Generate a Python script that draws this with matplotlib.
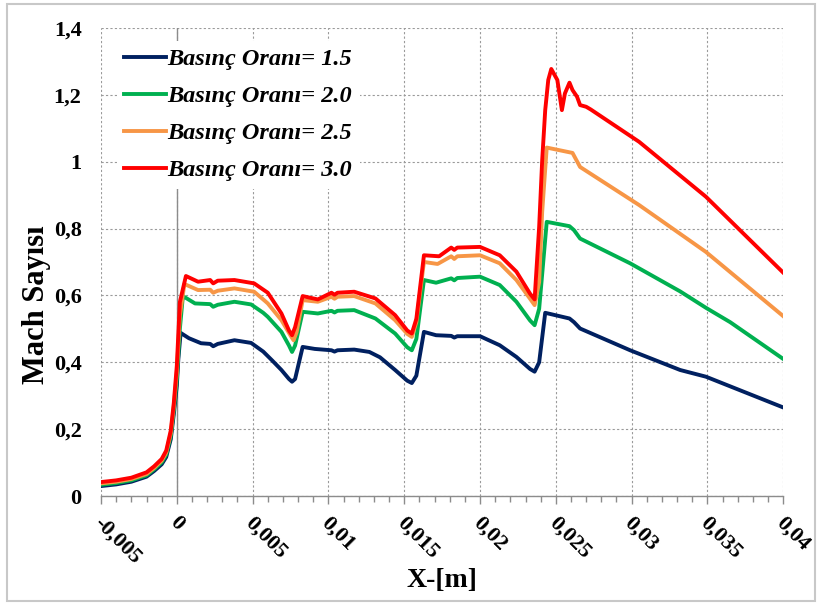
import numpy as np
import matplotlib.pyplot as plt
from matplotlib.ticker import FuncFormatter, MultipleLocator
from matplotlib.patches import Rectangle
from matplotlib.transforms import ScaledTranslation

plt.rcParams['font.family'] = ['Liberation Serif', 'DejaVu Serif']
plt.rcParams['font.weight'] = 'bold'

# Basinc orani = 1.5
x_15 = [-0.005, -0.004, -0.003, -0.002, -0.0015, -0.001, -0.0007, -0.0004, -0.0002, 0.0, 0.0001, 0.00025,
        0.0008, 0.0016, 0.0022, 0.0024, 0.0027, 0.0038, 0.0049, 0.0057, 0.0063, 0.0069, 0.0074, 0.0076, 0.0078,
        0.0083, 0.0091, 0.0102, 0.0104, 0.0106, 0.0117, 0.0127, 0.0134, 0.0144, 0.0152, 0.0155, 0.0158, 0.0163,
        0.0171, 0.0181, 0.0183, 0.0185, 0.02, 0.0213, 0.0224, 0.0233, 0.0236, 0.0239, 0.0243, 0.0259, 0.0262,
        0.0266, 0.0299, 0.0332, 0.0349, 0.04]
m_15 = [0.030, 0.035, 0.043, 0.058, 0.075, 0.095, 0.117, 0.170, 0.245, 0.330, 0.410, 0.488,
        0.472, 0.457, 0.455, 0.448, 0.455, 0.466, 0.458, 0.432, 0.405, 0.377, 0.350, 0.342, 0.350,
        0.446, 0.440, 0.436, 0.432, 0.436, 0.438, 0.431, 0.415, 0.377, 0.345, 0.338, 0.360, 0.491,
        0.481, 0.479, 0.474, 0.478, 0.478, 0.451, 0.416, 0.380, 0.372, 0.400, 0.548, 0.531, 0.520,
        0.501, 0.436, 0.377, 0.357, 0.265]

# Basinc orani = 2.0
x_20 = [-0.005, -0.004, -0.003, -0.002, -0.0015, -0.001, -0.0007, -0.0004, -0.0002, 0.0, 0.0002, 0.0004,
        0.0012, 0.0022, 0.0024, 0.0027, 0.0038, 0.0049, 0.0057, 0.006, 0.0069, 0.0074, 0.0076, 0.0078,
        0.0083, 0.0093, 0.0102, 0.0104, 0.0106, 0.0117, 0.0131, 0.0144, 0.0152, 0.0155, 0.0158, 0.0163,
        0.0171, 0.0181, 0.0183, 0.0185, 0.02, 0.0213, 0.0224, 0.0233, 0.0236, 0.0239, 0.0244, 0.0259, 0.0262,
        0.0266, 0.0299, 0.0332, 0.0349, 0.0365, 0.04]
m_20 = [0.034, 0.039, 0.047, 0.062, 0.080, 0.101, 0.124, 0.180, 0.258, 0.350, 0.500, 0.598,
        0.576, 0.574, 0.566, 0.572, 0.581, 0.573, 0.548, 0.536, 0.491, 0.450, 0.431, 0.450,
        0.551, 0.546, 0.554, 0.549, 0.554, 0.556, 0.531, 0.486, 0.445, 0.436, 0.470, 0.646,
        0.638, 0.651, 0.645, 0.652, 0.656, 0.631, 0.581, 0.525, 0.511, 0.560, 0.820, 0.807, 0.795,
        0.770, 0.696, 0.612, 0.563, 0.520, 0.410]

# Basinc orani = 2.5
x_25 = [-0.005, -0.004, -0.003, -0.002, -0.0015, -0.001, -0.0007, -0.0004, -0.0002, 0.0, 0.0002, 0.0005,
        0.0014, 0.0022, 0.0024, 0.0027, 0.0038, 0.0051, 0.0058, 0.006, 0.0069, 0.0075, 0.0077, 0.0079,
        0.0083, 0.0093, 0.0102, 0.0104, 0.0106, 0.0117, 0.0131, 0.0144, 0.0152, 0.0155, 0.0158, 0.0163,
        0.0172, 0.0181, 0.0183, 0.0185, 0.02, 0.0213, 0.0224, 0.0233, 0.0236, 0.0239, 0.0241, 0.0244, 0.0261,
        0.0266, 0.0305, 0.0349, 0.04]
m_25 = [0.038, 0.043, 0.051, 0.066, 0.084, 0.106, 0.130, 0.188, 0.268, 0.370, 0.540, 0.634,
        0.616, 0.617, 0.608, 0.614, 0.621, 0.611, 0.584, 0.576, 0.526, 0.480, 0.466, 0.490,
        0.586, 0.581, 0.596, 0.590, 0.596, 0.598, 0.576, 0.526, 0.485, 0.476, 0.520, 0.700,
        0.694, 0.717, 0.709, 0.717, 0.720, 0.696, 0.646, 0.590, 0.571, 0.640, 0.850, 1.042, 1.026,
        0.984, 0.870, 0.730, 0.538]

# Basinc orani = 3.0
x_30 = [-0.005, -0.004, -0.003, -0.002, -0.0015, -0.001, -0.0007, -0.0004, -0.0002, 0.0, 0.0002, 0.0006,
        0.0014, 0.0022, 0.0024, 0.0027, 0.0038, 0.0051, 0.006, 0.0069, 0.0074, 0.0076, 0.0078,
        0.0083, 0.0093, 0.0102, 0.0104, 0.0106, 0.0117, 0.0131, 0.0144, 0.0152, 0.0155, 0.0158, 0.0163,
        0.0173, 0.0181, 0.0183, 0.0185, 0.02, 0.0213, 0.0224, 0.0233, 0.0236, 0.0239, 0.0241, 0.0243,
        0.0245, 0.0247, 0.0251, 0.0254, 0.0256, 0.0259, 0.0261, 0.0264, 0.0266, 0.027, 0.0273,
        0.0305, 0.0349, 0.04]
m_30 = [0.042, 0.047, 0.055, 0.071, 0.089, 0.111, 0.136, 0.196, 0.278, 0.390, 0.580, 0.658,
        0.641, 0.646, 0.636, 0.644, 0.646, 0.636, 0.608, 0.546, 0.495, 0.481, 0.505,
        0.598, 0.588, 0.608, 0.602, 0.608, 0.611, 0.591, 0.541, 0.495, 0.486, 0.530, 0.720,
        0.717, 0.743, 0.736, 0.743, 0.745, 0.720, 0.671, 0.605, 0.588, 0.805, 1.004, 1.154,
        1.244, 1.277, 1.244, 1.154, 1.204, 1.236, 1.214, 1.194, 1.169, 1.164, 1.156,
        1.059, 0.895, 0.668]

labels = ['Basınç Oranı= 1.5', 'Basınç Oranı= 2.0', 'Basınç Oranı= 2.5', 'Basınç Oranı= 3.0']
colors = ['#002060', '#00B050', '#F79646', '#FF0000']

fig = plt.figure(figsize=(8.18, 6.05), dpi=100)
ax = fig.add_axes([0.1235, 0.180, 0.834, 0.774])

for xs, ms, lab, col in zip([x_15, x_20, x_25, x_30], [m_15, m_20, m_25, m_30], labels, colors):
    ax.plot(xs, ms, color=col, lw=2.8, label=lab, solid_joinstyle='round', zorder=3)

ax.set_xlim(-0.005, 0.04)
ax.set_ylim(0, 1.4)
ax.xaxis.set_major_locator(MultipleLocator(0.005))
ax.xaxis.set_minor_locator(MultipleLocator(0.001))
ax.yaxis.set_major_locator(MultipleLocator(0.2))

def comma(v, pos):
    v = round(v, 6)
    if v == 0:
        return '0'
    return f'{v:g}'.replace('.', ',')

ax.xaxis.set_major_formatter(FuncFormatter(comma))
ax.yaxis.set_major_formatter(FuncFormatter(comma))

ax.grid(True, which='major', color='#9a9a9a', lw=0.8, linestyle=(0, (2, 2)), zorder=1)
ax.axvline(0, color='#8c8c8c', lw=1.0, zorder=2)
for s in ['top', 'right', 'left']:
    ax.spines[s].set_visible(False)
ax.spines['bottom'].set_color('#8c8c8c')
ax.spines['bottom'].set_linewidth(1.0)

ax.tick_params(axis='y', length=0, pad=14, labelsize=16)
ax.tick_params(axis='x', which='major', length=6, width=1, color='#8c8c8c', pad=9, labelsize=16)
ax.tick_params(axis='x', which='minor', length=4, width=1, color='#8c8c8c')
shift = ScaledTranslation(-3 / 72, -2 / 72, fig.dpi_scale_trans)
for lbl in ax.get_xticklabels():
    lbl.set_rotation(-45)
    lbl.set_ha('left')
    lbl.set_va('center')
    lbl.set_rotation_mode('anchor')
    lbl.set_transform(lbl.get_transform() + shift)

ax.set_xlabel('X-[m]', fontsize=20, fontweight='bold')
ax.xaxis.set_label_coords(0.5, -0.153)
ax.set_ylabel('Mach Sayısı', fontsize=22, fontweight='bold')
ax.yaxis.set_label_coords(-0.073, 0.408)

leg = ax.legend(loc='upper left', bbox_to_anchor=(0.005, 0.998), frameon=True, fancybox=False,
                edgecolor='none', facecolor='white', framealpha=1,
                prop={'family': 'Liberation Serif', 'weight': 'bold', 'style': 'italic', 'size': 17.5},
                handlelength=1.75, handletextpad=0.05, labelspacing=0.62, borderpad=0.3)
leg.set_zorder(4)

fig.patches.append(Rectangle((0.009, 0.006), 0.987, 0.988, transform=fig.transFigure,
                             fill=False, edgecolor='#c8c8c8', lw=1.5))

fig.savefig('out.png', dpi=100)
